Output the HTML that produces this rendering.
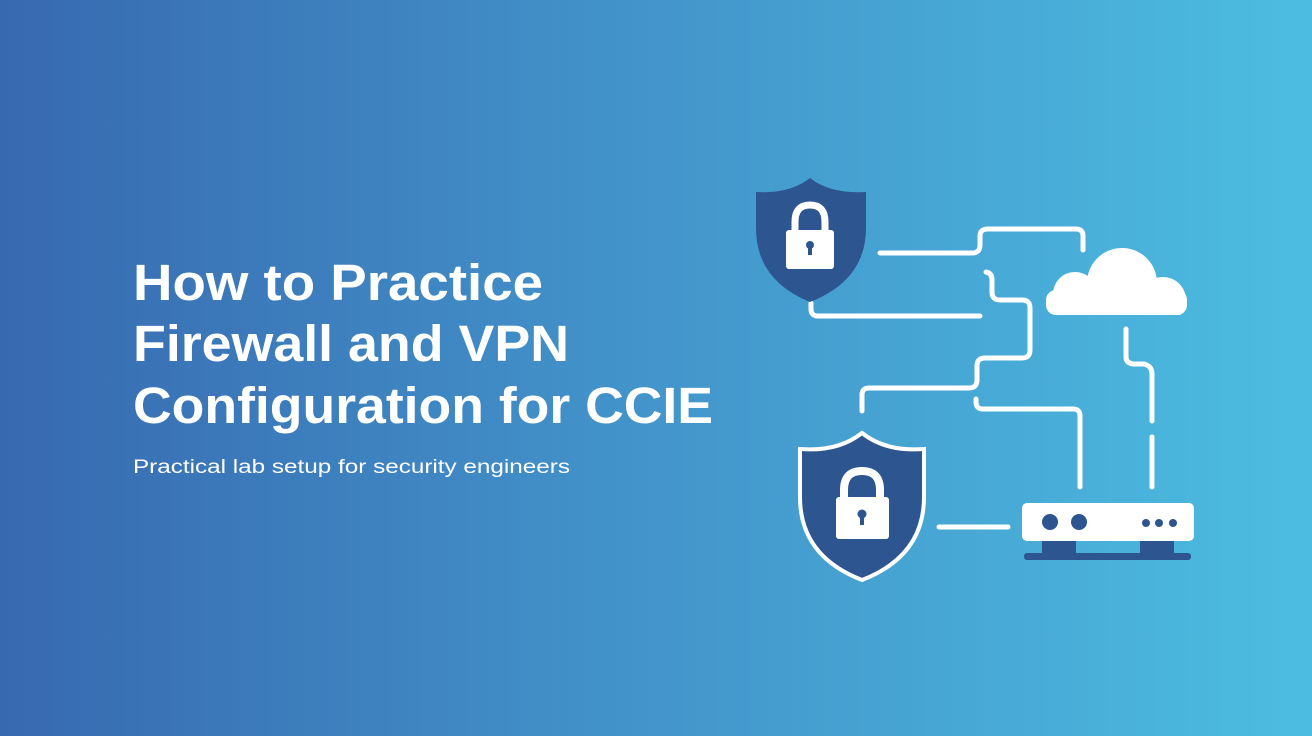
<!DOCTYPE html>
<html><head><style>
html,body{margin:0;padding:0;}
body{width:1312px;height:736px;overflow:hidden;background:linear-gradient(90deg,#3769b0 0%,#4291c9 45%,#4cbde0 100%);}
svg{display:block;}
</style></head><body>
<svg width="1312" height="736" viewBox="0 0 1312 736" xmlns="http://www.w3.org/2000/svg">
<defs><clipPath id="cc"><rect x="1040" y="230" width="160" height="85"/></clipPath></defs>
<g font-family="Liberation Sans, sans-serif" fill="#ffffff">
<text x="133" y="300" font-size="51" font-weight="bold" textLength="410" lengthAdjust="spacingAndGlyphs">How to Practice</text>
<text x="133" y="361" font-size="51" font-weight="bold" textLength="436" lengthAdjust="spacingAndGlyphs">Firewall and VPN</text>
<text x="133" y="423" font-size="51" font-weight="bold" textLength="580" lengthAdjust="spacingAndGlyphs">Configuration for CCIE</text>
<text x="133" y="473" font-size="19" textLength="437" lengthAdjust="spacingAndGlyphs">Practical lab setup for security engineers</text>
</g>
<g fill="none" stroke="#ffffff" stroke-width="5" stroke-linecap="round" stroke-linejoin="round">
<path d="M880 253 H972 Q980 253 980 245 V236 Q980 229 988 229 H1076 Q1083 229 1083 236 V250"/>
<path d="M811 303 V309 Q811 316 818 316 H980"/>
<path d="M986 272 Q992 273 992 280 V292 Q992 300 1000 300 H1022 Q1030 300 1030 308 V350 Q1030 358 1022 358 H985 Q977 358 977 366 V380 Q977 388 969 388 H869 Q862 388 862 395 V411"/>
<path d="M976 399 V402 Q976 409 983 409 H1073 Q1080 409 1080 416 V487"/>
<path d="M1126 329 V357 Q1126 363 1133 364 H1144 Q1152 366 1152 374 V421"/>
<path d="M1152 437 V487"/>
<path d="M939 527 H1008"/>
</g>
<path d="M810 178 Q790 194 756 192 V228 Q756 280 810 302 Q866 280 866 228 V192 Q830 194 810 178 Z" fill="#2d5590"/>
<path d="M862 433 Q838 452 800 449 V497 Q800 556 862 580 Q924 556 924 497 V449 Q886 452 862 433 Z" fill="#2d5590" stroke="#ffffff" stroke-width="4"/>
<g fill="#ffffff">
<path d="M795 232 V222 Q795 205 810 205 Q825 205 825 222 V232" fill="none" stroke="#fff" stroke-width="7"/>
<rect x="786" y="230" width="48" height="39" rx="3"/>
<path d="M844 501 V490 Q844 471 862 471 Q880 471 880 490 V501" fill="none" stroke="#fff" stroke-width="8"/>
<rect x="836" y="497" width="53" height="42" rx="3"/>
</g>
<g fill="#2d5590">
<circle cx="810" cy="245" r="4"/><rect x="808" y="246" width="4" height="9"/>
<circle cx="862" cy="514" r="4.5"/><rect x="860" y="515" width="4" height="10"/>
</g>
<g fill="#ffffff" clip-path="url(#cc)">
<circle cx="1122" cy="283" r="35"/>
<circle cx="1075" cy="294" r="22"/>
<circle cx="1163" cy="300" r="23"/>
<rect x="1046" y="290" width="141" height="25" rx="10"/>
</g>
<rect x="1022" y="503" width="172" height="38" rx="5" fill="#ffffff"/>
<g fill="#2d5590">
<circle cx="1050" cy="522" r="8"/><circle cx="1079" cy="522" r="8"/>
<circle cx="1146" cy="523" r="4"/><circle cx="1159" cy="523" r="4"/><circle cx="1173" cy="523" r="4"/>
<rect x="1042" y="541" width="34" height="13"/>
<rect x="1140" y="541" width="34" height="13"/>
<rect x="1024" y="553" width="167" height="7" rx="3"/>
</g>
</svg>
</body></html>
